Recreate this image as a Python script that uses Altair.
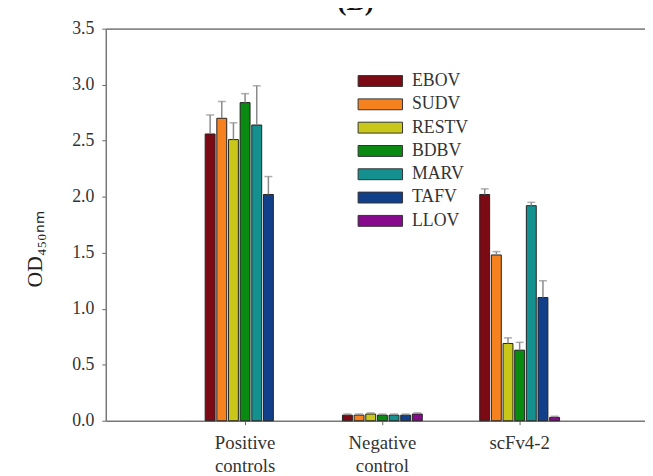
import altair as alt
import pandas as pd

groups = ["Positive controls", "Negative control", "scFv4-2"]
viruses = ["EBOV", "SUDV", "RESTV", "BDBV", "MARV", "TAFV", "LLOV"]
colors = ["#7c0a14", "#f5821f", "#c9c71a", "#0b8a12", "#14918f", "#123f8a", "#860a8c"]

positive = [2.56, 2.70, 2.51, 2.84, 2.64, 2.02, None]
positive_err = [0.17, 0.15, 0.15, 0.08, 0.35, 0.16, None]
negative = [0.05, 0.05, 0.06, 0.05, 0.05, 0.05, 0.06]
negative_err = [0.01, 0.01, 0.01, 0.01, 0.01, 0.01, 0.01]
scfv = [2.02, 1.48, 0.69, 0.63, 1.92, 1.10, 0.03]
scfv_err = [0.05, 0.03, 0.05, 0.07, 0.03, 0.15, 0.01]

rows = []
for g, vals, errs in zip(groups, [positive, negative, scfv], [positive_err, negative_err, scfv_err]):
    for v, val, e in zip(viruses, vals, errs):
        rows.append({"group": g, "virus": v, "od": val,
                     "upper": (val + e) if (val is not None and e is not None) else None})
df = pd.DataFrame(rows)

FONT = "Liberation Serif"

x_enc = alt.X("group:N", sort=groups,
              scale=alt.Scale(paddingInner=0.41, paddingOuter=0.669, align=0.538),
              axis=alt.Axis(title=None, labelAngle=0, labelFont=FONT, labelFontSize=19,
                            labelColor="#333", labelExpr="split(datum.label, ' ')",
                            labelLineHeight=23, labelPadding=9, labelBaseline="top",
                            tickSize=4, tickColor="#666", domainColor="#777",
                            domainWidth=1.5, orient="bottom"))
xoff = alt.XOffset("virus:N", sort=viruses,
                   scale=alt.Scale(paddingInner=0.15, paddingOuter=0.05))
y_enc = alt.Y("od:Q", scale=alt.Scale(domain=[0, 3.5], nice=False),
              axis=alt.Axis(title="OD₄₅₀ₙₘ", values=[0, 0.5, 1, 1.5, 2, 2.5, 3, 3.5],
                            format=".1f", grid=False, labelFont=FONT, labelFontSize=18,
                            labelColor="#333", labelPadding=8, tickSize=4, tickColor="#666",
                            domainColor="#777", domainWidth=1.5,
                            titleFont=FONT, titleFontSize=22, titleFontWeight="normal",
                            titleColor="#222", titleX=-72, titleY=223, titleAngle=270,
                            titleBaseline="middle", titleAlign="center"))

bars = alt.Chart(df).mark_bar(stroke="#222", strokeWidth=1).encode(
    x=x_enc,
    xOffset=xoff,
    y=y_enc,
    color=alt.Color("virus:N", sort=viruses,
                    scale=alt.Scale(domain=viruses, range=colors),
                    legend=alt.Legend(title=None, orient="none", legendX=266, legendY=41,
                                      symbolType="M-2,-0.49H2V0.49H-2Z", symbolSize=506,
                                      symbolStrokeColor="#333", symbolStrokeWidth=1,
                                      symbolOpacity=1, labelFont=FONT, labelFontSize=18,
                                      labelColor="#333", labelOffset=20, rowPadding=2.6,
                                      padding=0)),
)

err_x = alt.X("group:N", sort=groups,
              scale=alt.Scale(paddingInner=0.41, paddingOuter=0.669, align=0.538),
              axis=alt.Axis(orient="top", labels=False, ticks=False, title=None,
                            domainColor="#888", domainWidth=1.5))

err_rule = alt.Chart(df).mark_rule(color="#8a8a8a", strokeWidth=1.5).encode(
    x=err_x, xOffset=xoff, y="od:Q", y2="upper:Q"
)
err_cap = alt.Chart(df).mark_tick(color="#8a8a8a", thickness=1.5, size=8).encode(
    x=err_x, xOffset=xoff, y="upper:Q"
)

chart = alt.layer(bars, err_rule, err_cap).resolve_axis(x="independent").properties(
    width=546, height=397,
    autosize=alt.AutoSizeParams(type="none"),
    padding={"left": 99, "top": 18, "right": 0, "bottom": 53},
    title=alt.TitleParams("(B)", font=FONT, fontSize=28, fontWeight="bold",
                          color="#111", anchor="middle", dx=-20, offset=4),
).configure_view(stroke=None)

chart.save("out.html", embed_options={"renderer": "svg", "actions": False})
